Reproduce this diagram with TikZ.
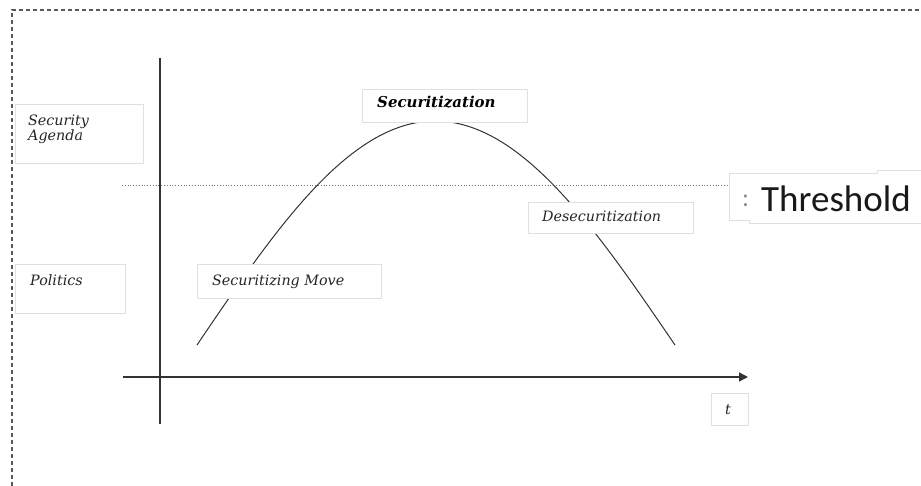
\documentclass[tikz,border=0pt]{standalone}
\usepackage{fontspec}
\setmainfont{DejaVu Serif}
\newfontfamily\thrfont{Carlito}
\usetikzlibrary{arrows.meta}
\begin{document}
\begin{tikzpicture}[x=1pt,y=-1pt,
  lbox/.style={draw=black!12,line width=0.8pt,fill=white},
  ltext/.style={font=\itshape\fontsize{14.3}{16}\selectfont,text=black!85,anchor=base west,inner sep=0pt},
  axis/.style={draw=black!80,line width=1.4pt},
  curve/.style={draw=black!80,line width=1pt}]
\useasboundingbox (0,0) rectangle (921,486);
% frame
\coordinate (fbl) at (12,486);
\coordinate (ftl) at (12,10);
\coordinate (ftr) at (921,10);
\draw[black!65,line width=1.1pt,dash pattern=on 4pt off 3pt] (fbl) -- (ftl) -- (ftr);
% threshold line
\coordinate (th1) at (122,185);
\coordinate (th2) at (730,185);
\draw[black!55,dotted,line width=0.8pt] (th1) -- (th2);
% axes
\coordinate (ya) at (160,58);
\coordinate (yb) at (160,424);
\coordinate (xa) at (123,377);
\coordinate (xb) at (748,377);
\draw[axis] (ya) -- (yb);
\draw[axis,-{Triangle[length=9pt,width=9pt]}] (xa) -- (xb);
% curve
\coordinate (c0) at (197,345);
\coordinate (cp) at (435,121);
\coordinate (c3) at (675,345);
\draw[curve] (c0) sin (cp) cos (c3);
% boxes
\node[lbox,minimum width=128pt,minimum height=59pt,anchor=north west] (sabox) at (15,104) {};
\node[ltext] (sa1) at (28,126) {Security};
\node[ltext] (sa2) at (28,141) {Agenda};
\node[lbox,minimum width=110pt,minimum height=49pt,anchor=north west] (pbox) at (15,264) {};
\node[ltext] (pol) at (30,286) {Politics};
\node[lbox,minimum width=184pt,minimum height=34pt,anchor=north west] (smbox) at (197,264) {};
\node[ltext] (sm) at (212,286) {Securitizing Move};
\node[lbox,minimum width=165pt,minimum height=33pt,anchor=north west] (sbox) at (362,89) {};
\node[ltext,font=\bfseries\itshape\fontsize{15}{17}\selectfont,text=black] (sec) at (377,108) {Securitization};
\node[lbox,minimum width=165pt,minimum height=31pt,anchor=north west] (dbox) at (528,202) {};
\node[ltext] (des) at (542,222) {Desecuritization};
\node[lbox,minimum width=37pt,minimum height=32pt,anchor=north west] (tbox) at (711,393) {};
\node[ltext] (tl) at (725,414) {t};
% threshold label box
\fill[white] (729,173) rectangle (921,220);
\coordinate (tb1) at (729,173);
\coordinate (tb2) at (877,173);
\coordinate (tb3) at (877,170);
\coordinate (tb4) at (921,170);
\coordinate (tb5) at (729,220);
\coordinate (tb6) at (749,220);
\coordinate (tb7) at (749,223);
\coordinate (tb8) at (921,223);
\draw[black!12,line width=0.8pt] (tb4) -- (tb3) -- (tb2) -- (tb1) -- (tb5) -- (tb6) -- (tb7) -- (tb8);
\node[anchor=base west,inner sep=0pt,font=\thrfont\fontsize{26}{28}\selectfont,text=black!45] (col) at (742,207) {:};
\node[anchor=base west,inner sep=0pt,font=\thrfont\fontsize{37}{40}\selectfont,text=black!90] (thr) at (761,212) {Threshold};
\end{tikzpicture}
\end{document}
